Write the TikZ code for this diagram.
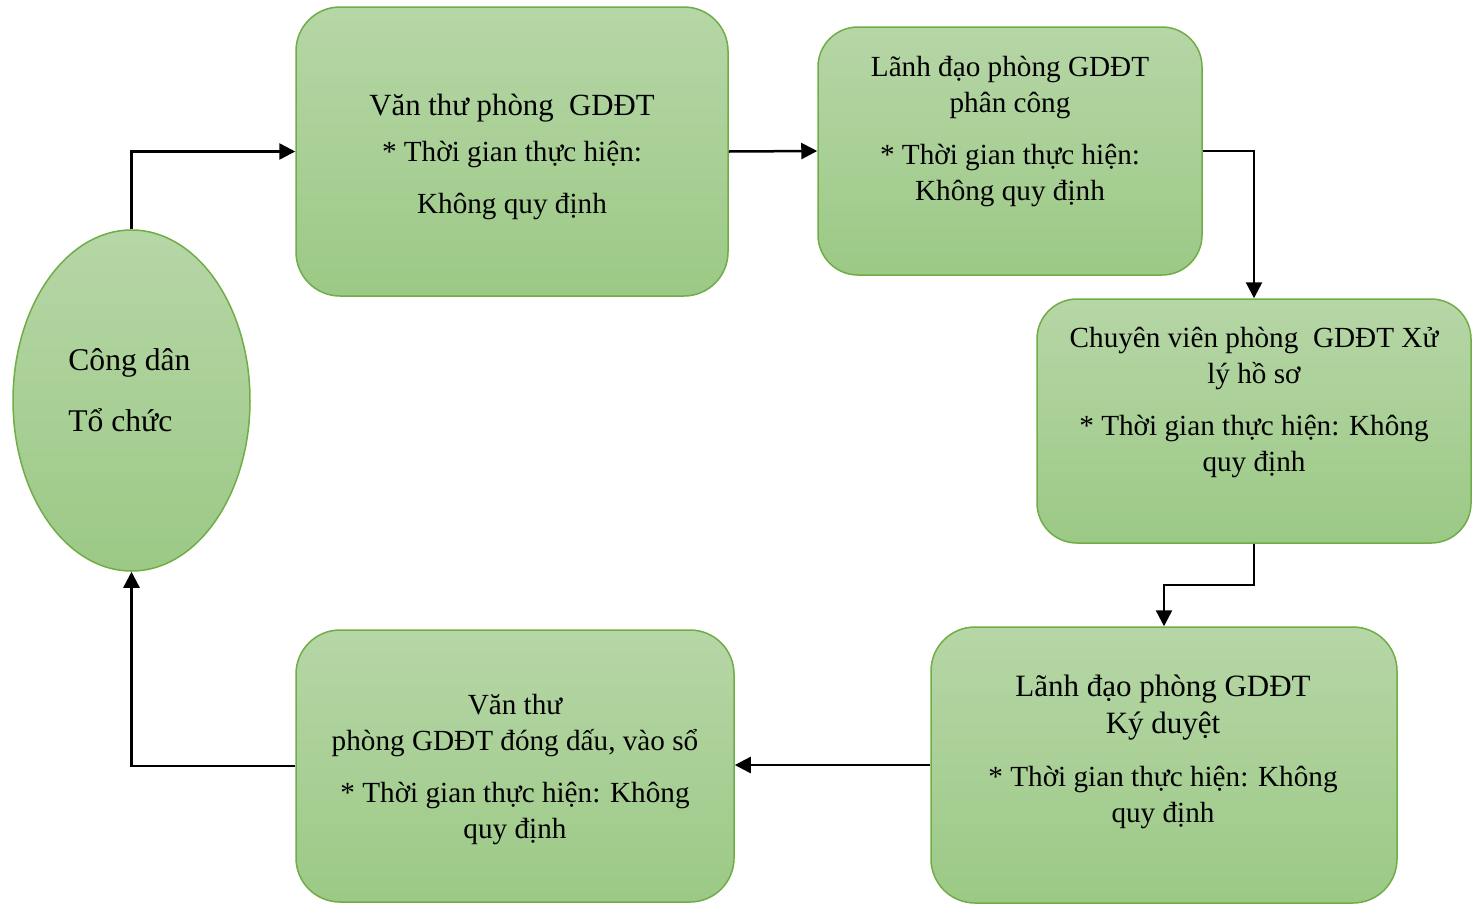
\documentclass[tikz,border=0pt]{standalone}
\usepackage{fontspec}
\setmainfont{Liberation Serif}
\usetikzlibrary{arrows.meta,shapes.geometric}
\definecolor{gtop}{RGB}{182,214,166}
\definecolor{gbot}{RGB}{156,201,134}
\definecolor{gline}{RGB}{112,173,71}
\begin{document}
\begin{tikzpicture}[x=0.5pt,y=-0.5pt,
  box/.style={draw=gline, line width=0.75pt, top color=gtop, bottom color=gbot, rounded corners=22pt, inner sep=0pt},
  oval/.style={ellipse, draw=gline, line width=0.75pt, top color=gtop, bottom color=gbot, inner sep=0pt},
  txt/.style={align=center, inner sep=0pt},
  conn/.style={line width=1.25pt, -{Triangle[length=8pt,width=8pt]}}]
\useasboundingbox (0,0) rectangle (1481,905);

\node[oval, minimum width=118.5pt, minimum height=170.5pt] (ell) at (131.5,400.5) {};
\node[box, minimum width=216pt, minimum height=144.5pt] (b1) at (512,151.5) {};
\node[box, rounded corners=20pt, minimum width=192pt, minimum height=124pt] (b2) at (1010,151) {};
\node[box, rounded corners=20pt, minimum width=217pt, minimum height=122pt] (b3) at (1254,421) {};
\node[box, minimum width=233pt, minimum height=138pt] (b4) at (1164,765) {};
\node[box, minimum width=219pt, minimum height=136pt] (b5) at (515,766) {};

\node[txt, align=left, anchor=west, font=\fontsize{15.8}{18}\selectfont] (t0) at (68,390) {Công dân\\[12.5pt]Tổ chức};
\node[txt, font=\fontsize{14.6}{18}\selectfont] (t1) at (512,157) {{\fontsize{15.4}{18}\selectfont Văn thư phòng\ \ GDĐT}\\[5pt]* Thời gian thực hiện:\\[8pt]Không quy định};
\node[txt, font=\fontsize{14.6}{18}\selectfont] (t2) at (1010,131) {Lãnh đạo phòng GDĐT\\phân công\\[8pt]* Thời gian thực hiện:\\Không quy định};
\node[txt, font=\fontsize{14.6}{18}\selectfont] (t3) at (1254,402) {Chuyên viên phòng\ \ GDĐT Xử\\lý hồ sơ\\[8pt]* Thời gian thực hiện: Không\\quy định};
\node[txt, font=\fontsize{14.6}{18}\selectfont] (t4) at (1163,752) {{\fontsize{15.5}{18.5}\selectfont Lãnh đạo phòng GDĐT}\\[0.5pt]{\fontsize{15.5}{18.5}\selectfont Ký duyệt}\\[8.5pt]* Thời gian thực hiện: Không\\quy định};
\node[txt, font=\fontsize{14.6}{18}\selectfont] (t5) at (515,770) {Văn thư\\phòng GDĐT đóng dấu, vào sổ\\[8pt]* Thời gian thực hiện: Không\\quy định};

\coordinate (k) at (1254,585);
\draw[conn] (ell.north) |- (b1.west);
\draw[conn] (b1.east) -- (b2.west);
\draw[conn] (b2.east) -| (b3.north);
\draw[conn] (b3.south) -- (k) -| (b4.north);
\draw[conn] (b4.west) -- (b4.west -| b5.east);
\draw[conn] (b5.west) -| (ell.south);
\end{tikzpicture}
\end{document}
